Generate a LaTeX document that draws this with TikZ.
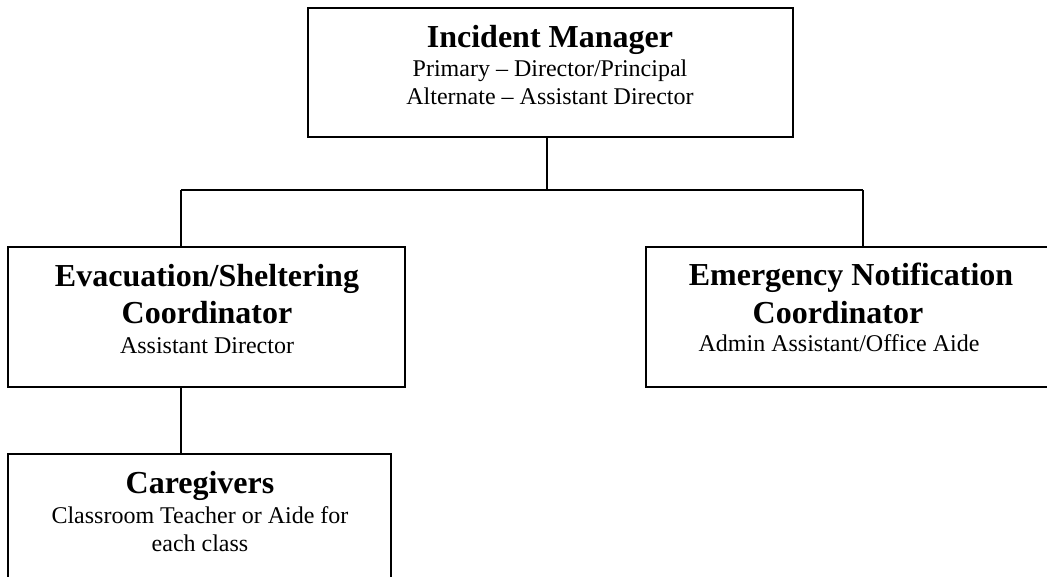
\documentclass[tikz,border=0pt]{standalone}
\usepackage{fontspec}
\setmainfont{Liberation Serif}
\begin{document}
\begin{tikzpicture}[x=1pt,y=-1pt,
  box/.style={draw=black, line width=1.6pt, rectangle, inner sep=0pt},
  conn/.style={draw=black, line width=1.6pt},
  ttl/.style={anchor=base, inner sep=0pt, font=\fontsize{32pt}{36pt}\selectfont\bfseries},
  sub/.style={anchor=base, inner sep=0pt, font=\fontsize{24pt}{28pt}\selectfont}]
\path[use as bounding box] (0,0) rectangle (1047,577);
\clip (0,0) rectangle (1047,577);
\fill[white] (0,0) rectangle (1047,577);
% boxes
\node[box, minimum width=485pt, minimum height=129pt] (im) at (550.5,72.5) {};
\node[box, minimum width=397pt, minimum height=140pt] (evac) at (206.5,317) {};
\node[box, minimum width=414pt, minimum height=140pt] (enc) at (853,317) {};
\node[box, minimum width=383pt, minimum height=146pt] (care) at (199.5,527) {};
% texts
\node[ttl] (imt) at (550,48) {Incident Manager};
\node[sub] (ims1) at (550,77) {Primary – Director/Principal};
\node[sub] (ims2) at (550,105) {Alternate – Assistant Director};
\node[ttl] (evt1) at (207,287) {Evacuation/Sheltering};
\node[ttl] (evt2) at (207,324) {Coordinator};
\node[sub] (evs) at (207,353) {Assistant Director};
\node[ttl] (ent1) at (851,286) {Emergency Notification};
\node[ttl] (ent2) at (838,324) {Coordinator};
\node[sub] (ens) at (839,352) {Admin Assistant/Office Aide};
\node[ttl] (cat) at (200,493) {Caregivers};
\node[sub] (cas1) at (200,523) {Classroom Teacher or Aide for};
\node[sub] (cas2) at (200,551) {each class};
% connectors
\coordinate (j) at (547,190);
\coordinate (jl) at (181,190);
\coordinate (jr) at (863,190);
\draw[conn] (j |- im.south) -- (j);
\draw[conn] (jl) -- (jr);
\draw[conn] (jl) -- (jl |- evac.north);
\draw[conn] (jr) -- (jr |- enc.north);
\draw[conn] (evac.south -| jl) -- (care.north -| jl);
\end{tikzpicture}
\end{document}
